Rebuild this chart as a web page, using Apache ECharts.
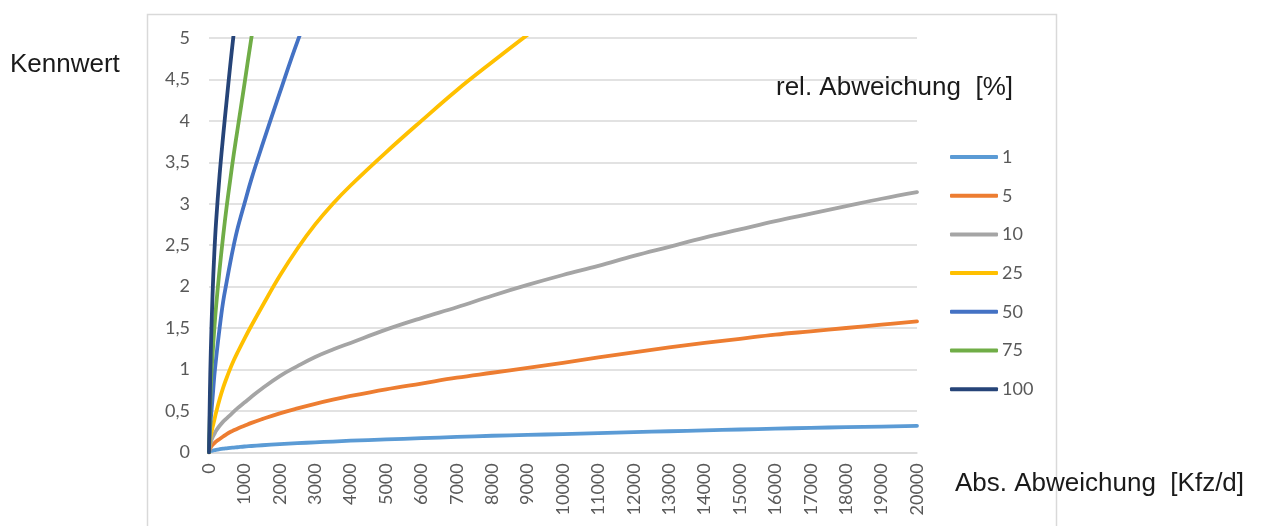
<!DOCTYPE html>
<html>
<head>
<meta charset="utf-8">
<style>
  html, body { margin: 0; padding: 0; background: #ffffff; }
  #chart { width: 1264px; height: 526px; }
</style>
<script src="https://cdn.jsdelivr.net/npm/echarts@6/dist/echarts.min.js"></script>
</head>
<body>
<div id="chart"></div>
<script>
// Absolute deviation [Kfz/d] at which each curve is sampled
const absDev = [0, 25, 50, 100, 150, 200, 300, 400, 500, 600, 700, 800, 1000, 1200, 1500,
  2000, 2500, 3000, 3500, 4000, 5000, 6000, 7000, 8000, 9000, 10000, 11000, 12000, 13000, 14000,
  15000, 16000, 17000, 18000, 19000, 20000];

// Kennwert per relative deviation (steep curves stop once they leave the 0..5 range)
const rel1 = [0, 0.01, 0.015, 0.02, 0.025, 0.03, 0.037, 0.043, 0.048, 0.053, 0.057, 0.061, 0.07, 0.076, 0.085,
  0.098, 0.11, 0.12, 0.13, 0.14, 0.155, 0.17, 0.185, 0.2, 0.21, 0.22, 0.232, 0.243, 0.254, 0.265,
  0.275, 0.285, 0.295, 0.303, 0.311, 0.32];
const rel5 = [0, 0.04, 0.06, 0.09, 0.11, 0.13, 0.16, 0.19, 0.22, 0.245, 0.265, 0.285, 0.32, 0.355, 0.4,
  0.47, 0.53, 0.585, 0.635, 0.68, 0.76, 0.83, 0.9, 0.96, 1.02, 1.08, 1.145, 1.205, 1.265, 1.32,
  1.37, 1.42, 1.46, 1.5, 1.54, 1.58];
const rel10 = [0, 0.08, 0.12, 0.18, 0.22, 0.26, 0.32, 0.37, 0.41, 0.45, 0.49, 0.53, 0.6, 0.67, 0.77,
  0.92, 1.04, 1.15, 1.24, 1.32, 1.48, 1.62, 1.75, 1.89, 2.02, 2.14, 2.25, 2.37, 2.48, 2.59,
  2.69, 2.79, 2.88, 2.97, 3.06, 3.14];
const rel25 = [0, 0.13, 0.2, 0.3, 0.39, 0.48, 0.64, 0.78, 0.9, 1.01, 1.11, 1.2, 1.37, 1.53, 1.76,
  2.13, 2.46, 2.75, 3.0, 3.22, 3.62, 4.0, 4.37, 4.71, 5.04, 5.36];
const rel50 = [0, 0.25, 0.4, 0.65, 0.92, 1.13, 1.5, 1.82, 2.06, 2.29, 2.5, 2.69, 3.0, 3.3, 3.7,
  4.34, 4.96, 5.5];
const rel75 = [0, 0.45, 0.8, 1.17, 1.49, 1.76, 2.21, 2.61, 2.97, 3.29, 3.6, 3.88, 4.44, 5.01, 5.8];
const rel100 = [0, 0.7, 1.2, 1.9, 2.4, 2.78, 3.35, 3.82, 4.25, 4.67, 5.06, 5.42];

const relNames = ['1', '5', '10', '25', '50', '75', '100'];
const relValues = [rel1, rel5, rel10, rel25, rel50, rel75, rel100];
const relColors = ['#5B9BD5', '#ED7D31', '#A5A5A5', '#FFC000', '#4472C4', '#70AD47', '#264478'];

const tickFont = 'Lato, "Noto Sans", sans-serif';
const textFont = '"Liberation Sans", Arial, sans-serif';

const series = relNames.map((name, i) => ({
  name: name,
  type: 'line',
  data: relValues[i].map((v, j) => [absDev[j], v]),
  symbol: 'none',
  smooth: 0.4,
  clip: true,
  lineStyle: { color: relColors[i], width: 3.8, cap: 'round', join: 'round' },
  itemStyle: { color: relColors[i] }
}));

const chart = echarts.init(document.getElementById('chart'), null, { renderer: 'canvas' });
chart.setOption({
  animation: false,
  backgroundColor: '#ffffff',
  title: [
    { text: 'Kennwert', left: 10, top: 52, padding: 0,
      textStyle: { fontFamily: textFont, fontSize: 26, fontWeight: 'normal', color: '#1a1a1a' } },
    { text: 'rel. Abweichung  [%]', left: 776, top: 75, padding: 0,
      textStyle: { fontFamily: textFont, fontSize: 26, fontWeight: 'normal', color: '#1a1a1a' } },
    { text: 'Abs. Abweichung  [Kfz/d]', left: 955, top: 471, padding: 0,
      textStyle: { fontFamily: textFont, fontSize: 26, fontWeight: 'normal', color: '#1a1a1a' } }
  ],
  graphic: [{
    type: 'rect',
    silent: true,
    shape: { x: 147.5, y: 14.5, width: 909, height: 600 },
    style: { fill: 'none', stroke: '#d9d9d9', lineWidth: 1.5 },
    z: -1
  }],
  legend: {
    orient: 'vertical',
    left: 950,
    top: 148,
    padding: 0,
    itemWidth: 48,
    itemHeight: 4,
    itemGap: 20.7,
    icon: 'roundRect',
    data: relNames,
    textStyle: { fontFamily: tickFont, fontSize: 18, color: '#595959', padding: [0, 0, 0, -1] }
  },
  grid: { left: 209, top: 38, width: 708, height: 414.3 },
  xAxis: {
    type: 'value',
    min: 0,
    max: 20000,
    interval: 1000,
    axisLine: { show: true, lineStyle: { color: '#d9d9d9', width: 1.5 } },
    axisTick: { show: false },
    splitLine: { show: false },
    axisLabel: {
      rotate: 90,
      margin: 11,
      fontFamily: tickFont,
      fontSize: 18,
      color: '#595959',
      showMinLabel: true,
      showMaxLabel: true,
      formatter: v => String(v)
    }
  },
  yAxis: {
    type: 'value',
    min: 0,
    max: 5,
    interval: 0.5,
    axisLine: { show: false },
    axisTick: { show: false },
    splitLine: { show: true, lineStyle: { color: '#d9d9d9', width: 1.5 } },
    axisLabel: {
      margin: 19,
      fontFamily: tickFont,
      fontSize: 18,
      color: '#595959',
      formatter: v => String(v).replace('.', ',')
    }
  },
  series: series
});
</script>
</body>
</html>
